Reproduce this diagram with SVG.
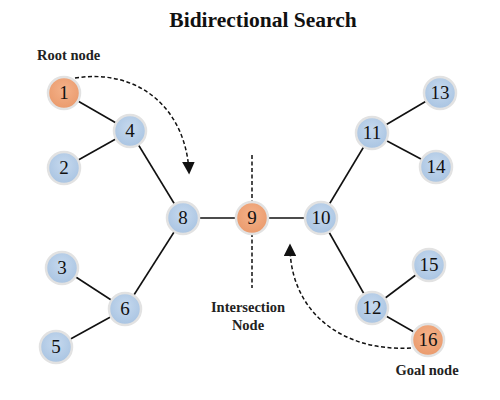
<svg xmlns="http://www.w3.org/2000/svg" width="500" height="400" viewBox="0 0 500 400">
<style>
.title{font-family:"Liberation Serif",serif;font-weight:bold;font-size:21.5px;fill:#111}
.lbl{font-family:"Liberation Serif",serif;font-weight:bold;font-size:14.5px;fill:#222}
.nt{font-family:"Liberation Serif",serif;font-size:19px;fill:#111;text-anchor:middle}
.b{fill:url(#gb);stroke:#e2e2e2;stroke-width:2.5}
.o{fill:url(#go);stroke:#e2e2e2;stroke-width:2.5}
.e{stroke:#111;stroke-width:1.6;fill:none}
.d{stroke:#111;stroke-width:1.5;fill:none;stroke-dasharray:4 2.5}
</style>
<defs>
<radialGradient id="gb" cx="0.5" cy="0.4" r="0.6">
<stop offset="0" stop-color="#c6d9ee"/><stop offset="1" stop-color="#a9c4e2"/>
</radialGradient>
<radialGradient id="go" cx="0.5" cy="0.4" r="0.6">
<stop offset="0" stop-color="#f4b28a"/><stop offset="1" stop-color="#ea9a6c"/>
</radialGradient>
<marker id="ah" viewBox="0 0 10 10" refX="8" refY="5" markerWidth="8.5" markerHeight="8.5" orient="auto">
<path d="M0,0 L10,5 L0,10 z" fill="#111"/>
</marker>
</defs>
<rect width="500" height="400" fill="#fff"/>
<text class="title" x="263" y="27" text-anchor="middle">Bidirectional Search</text>
<text class="lbl" x="37" y="60">Root node</text>
<text class="lbl" x="248" y="312" text-anchor="middle">Intersection</text>
<text class="lbl" x="248" y="330" text-anchor="middle">Node</text>
<text class="lbl" x="427" y="375" text-anchor="middle">Goal node</text>
<g id="connectors">
<line class="e" x1="64" y1="93" x2="130" y2="131"/>
<line class="e" x1="64" y1="168" x2="130" y2="131"/>
<line class="e" x1="130" y1="131" x2="183" y2="218"/>
<line class="e" x1="183" y1="218" x2="252" y2="218"/>
<line class="e" x1="252" y1="218" x2="321" y2="218"/>
<line class="e" x1="183" y1="218" x2="125" y2="309"/>
<line class="e" x1="62" y1="268" x2="125" y2="309"/>
<line class="e" x1="56" y1="347" x2="125" y2="309"/>
<line class="e" x1="321" y1="218" x2="372" y2="133"/>
<line class="e" x1="372" y1="133" x2="440" y2="93"/>
<line class="e" x1="372" y1="133" x2="436" y2="167"/>
<line class="e" x1="321" y1="218" x2="372" y2="308"/>
<line class="e" x1="372" y1="308" x2="429" y2="265"/>
<line class="e" x1="372" y1="308" x2="428" y2="340"/>
<line class="d" x1="252" y1="155" x2="252" y2="288"/>
<path class="d" d="M75,78 C140,68 186,110 189,172" marker-end="url(#ah)"/>
<path class="d" d="M411,348 C340,352 290,310 290,246" marker-end="url(#ah)"/>
</g>
<g id="n1"><circle class="o" cx="64" cy="93" r="16"/><text class="nt" x="64" y="99">1</text></g>
<g id="n4"><circle class="b" cx="130" cy="131" r="16"/><text class="nt" x="130" y="137">4</text></g>
<g id="n2"><circle class="b" cx="64" cy="168" r="16"/><text class="nt" x="64" y="174">2</text></g>
<g id="n8"><circle class="b" cx="183" cy="218" r="16"/><text class="nt" x="183" y="224">8</text></g>
<g id="n9"><circle class="o" cx="252" cy="218" r="16"/><text class="nt" x="252" y="224">9</text></g>
<g id="n10"><circle class="b" cx="321" cy="218" r="16"/><text class="nt" x="321" y="224">10</text></g>
<g id="n3"><circle class="b" cx="62" cy="268" r="16"/><text class="nt" x="62" y="274">3</text></g>
<g id="n6"><circle class="b" cx="125" cy="309" r="16"/><text class="nt" x="125" y="315">6</text></g>
<g id="n5"><circle class="b" cx="56" cy="347" r="16"/><text class="nt" x="56" y="353">5</text></g>
<g id="n11"><circle class="b" cx="372" cy="133" r="16"/><text class="nt" x="372" y="139">11</text></g>
<g id="n13"><circle class="b" cx="440" cy="93" r="16"/><text class="nt" x="440" y="99">13</text></g>
<g id="n14"><circle class="b" cx="436" cy="167" r="16"/><text class="nt" x="436" y="173">14</text></g>
<g id="n12"><circle class="b" cx="372" cy="308" r="16"/><text class="nt" x="372" y="314">12</text></g>
<g id="n15"><circle class="b" cx="429" cy="265" r="16"/><text class="nt" x="429" y="271">15</text></g>
<g id="n16"><circle class="o" cx="428" cy="340" r="16"/><text class="nt" x="428" y="346">16</text></g>
</svg>
